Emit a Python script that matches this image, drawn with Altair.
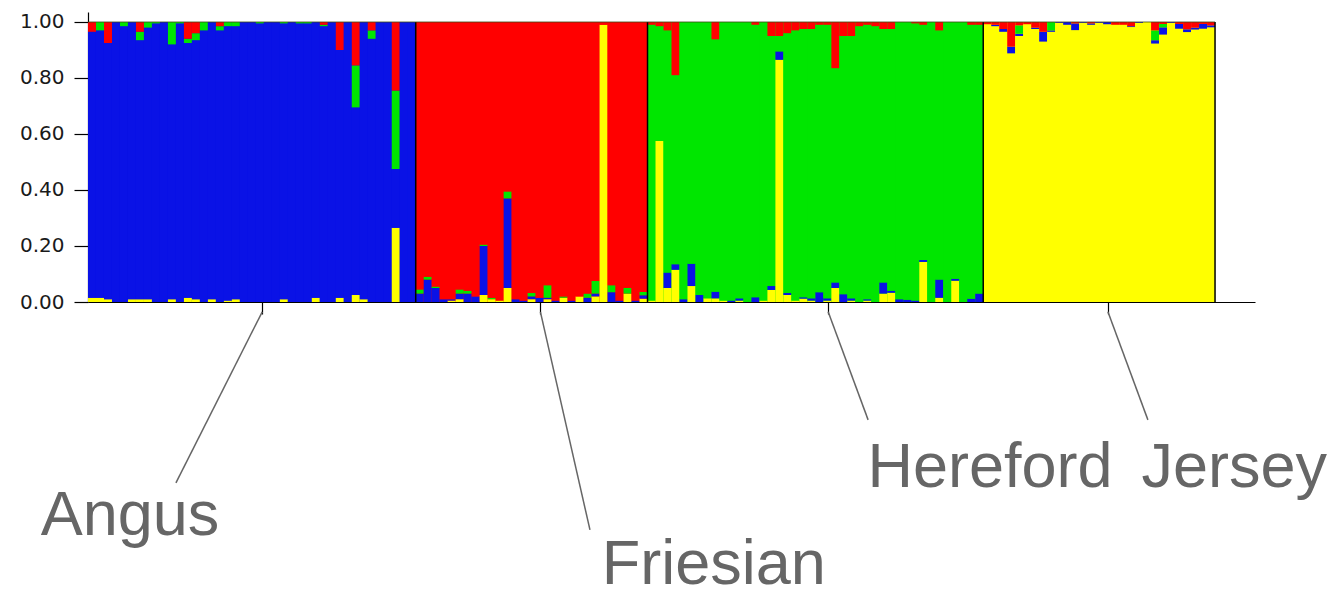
import altair as alt
import pandas as pd

# ---------------- data (admixture proportions) ----------------
groups = ["Angus", "Friesian", "Hereford", "Jersey"]
main_cluster = {"Angus": "blue", "Friesian": "red", "Hereford": "green", "Jersey": "yellow"}

# Angus (main = blue)
angus_red = [0.035, 0, 0.075, 0, 0, 0, 0.035, 0, 0, 0, 0, 0, 0.06, 0.04, 0, 0, 0.015, 0, 0, 0,
             0, 0, 0, 0, 0, 0, 0, 0, 0, 0.01, 0, 0.10, 0, 0.155, 0, 0.03, 0, 0, 0.245, 0, 0]
angus_green = [0, 0.03, 0, 0, 0.015, 0, 0.03, 0.02, 0.005, 0, 0.08, 0.005, 0.015, 0.025, 0.03, 0, 0.015, 0.015, 0.015, 0,
               0, 0.005, 0, 0, 0.005, 0, 0.005, 0.005, 0, 0.005, 0, 0, 0, 0.15, 0, 0.03, 0, 0, 0.28, 0, 0]
angus_yellow = [0.015, 0.015, 0.01, 0, 0, 0.01, 0.01, 0.01, 0, 0, 0.01, 0, 0.015, 0.01, 0, 0.01, 0, 0.005, 0.01, 0,
                0, 0, 0, 0, 0.01, 0, 0, 0, 0.015, 0, 0, 0.015, 0, 0.025, 0.01, 0, 0, 0, 0.265, 0, 0]

# Friesian (main = red)
friesian_green = [0.015, 0.01, 0.005, 0, 0, 0.015, 0.01, 0, 0.005, 0.005, 0, 0.025, 0, 0, 0.012, 0, 0.045, 0, 0.005, 0,
                  0, 0.015, 0.045, 0, 0.025, 0, 0.02, 0, 0.012]
friesian_blue = [0.03, 0.08, 0.05, 0.01, 0.005, 0.02, 0.03, 0.02, 0.175, 0, 0, 0.32, 0.01, 0.005, 0.01, 0.015, 0.005, 0.005, 0, 0.005,
                 0, 0.015, 0.01, 0, 0.035, 0.005, 0, 0.005, 0.012]
friesian_yellow = [0, 0, 0, 0, 0.005, 0.01, 0, 0, 0.025, 0.01, 0.005, 0.05, 0, 0, 0.01, 0, 0.01, 0, 0.015, 0,
                   0.02, 0, 0.02, 0.99, 0, 0, 0.03, 0, 0.012]

# Hereford (main = green)
hereford_red = [0.01, 0.015, 0.03, 0.19, 0, 0, 0, 0, 0.062, 0, 0, 0, 0, 0.01, 0, 0.05, 0.05, 0.04, 0.03, 0.025,
                0.025, 0.01, 0.01, 0.165, 0.05, 0.05, 0.015, 0.01, 0.015, 0.025, 0.025, 0, 0, 0.005, 0.01, 0, 0.03, 0, 0, 0,
                0.01, 0.01]
hereford_blue = [0, 0, 0.055, 0.02, 0.01, 0.08, 0.025, 0, 0.024, 0, 0.005, 0.008, 0, 0.017, 0, 0.014, 0.03, 0.007, 0, 0.005,
                 0.008, 0.035, 0.008, 0.02, 0.028, 0.008, 0, 0.005, 0, 0.04, 0.007, 0.01, 0.008, 0.005, 0.007, 0, 0.065, 0, 0.007, 0,
                 0.012, 0.03]
hereford_yellow = [0.005, 0.575, 0.05, 0.115, 0, 0.057, 0, 0.013, 0.013, 0.005, 0, 0.005, 0, 0, 0.005, 0.043, 0.865, 0.025, 0.005, 0.012,
                   0.005, 0, 0.005, 0.05, 0, 0.005, 0, 0.005, 0, 0.03, 0.033, 0, 0, 0, 0.143, 0, 0.015, 0, 0.076, 0,
                   0, 0]

# Jersey (main = yellow)
jersey_red = [0.008, 0.01, 0.025, 0.088, 0.012, 0.008, 0.02, 0.035, 0, 0, 0, 0.005, 0, 0.005, 0, 0, 0.01, 0.01, 0.015, 0,
              0, 0.03, 0.007, 0, 0.007, 0.026, 0.02, 0.007, 0.012]
jersey_green = [0, 0, 0, 0, 0.03, 0, 0, 0, 0.03, 0, 0, 0, 0, 0, 0, 0, 0, 0, 0, 0,
                0, 0.035, 0.012, 0, 0, 0, 0, 0, 0]
jersey_blue = [0, 0.005, 0.01, 0.024, 0.008, 0, 0.005, 0.035, 0.005, 0.003, 0.01, 0.024, 0.003, 0.005, 0.003, 0.008, 0, 0, 0.003, 0.003,
               0, 0.012, 0.026, 0.003, 0.017, 0.01, 0.007, 0.017, 0.007]

minor = {
    "Angus": {"red": angus_red, "green": angus_green, "yellow": angus_yellow},
    "Friesian": {"green": friesian_green, "blue": friesian_blue, "yellow": friesian_yellow},
    "Hereford": {"red": hereford_red, "blue": hereford_blue, "yellow": hereford_yellow},
    "Jersey": {"red": jersey_red, "green": jersey_green, "blue": jersey_blue},
}

clusters = ["yellow", "blue", "green", "red"]          # stacking order, bottom to top
cluster_colors = ["#ffff00", "#0a12e6", "#00e600", "#ff0000"]

y_ticks = [0, 0.2, 0.4, 0.6, 0.8, 1.0]

# annotation anchors (in individual-index units) and label placement
tick_pos = [21.8, 56.6, 92.6, 127.6]
label_line_end_x = [11.0, 62.8, 97.6, 132.6]
label_line_end_y = [-0.646, -0.814, -0.421, -0.421]
label_x = [5.25, 78.3, 112.85, 143.4]
label_y = [-0.832, -1.008, -0.661, -0.661]

# ---------------- build tables ----------------
rows = []
group_rows = []
idx = 0
boundaries = []
for g in groups:
    comp = minor[g]
    n = len(next(iter(comp.values())))
    group_rows.append({"x": idx, "x2": idx + n, "y": 0, "y2": 1, "cluster": main_cluster[g]})
    for i in range(n):
        vals = {c: comp[c][i] if c in comp else None for c in clusters}
        others = sum(v for v in vals.values() if v is not None)
        vals[main_cluster[g]] = max(0.0, 1.0 - others)
        y0 = 0.0
        for c in clusters:
            v = vals[c]
            if v > 0:
                rows.append({"x": idx, "x2": idx + 1, "y": y0, "y2": y0 + v, "cluster": c, "group": g})
            y0 += v
        idx += 1
    boundaries.append(idx)
n_total = idx
bars_df = pd.DataFrame(rows)
groups_df = pd.DataFrame(group_rows)

sep_df = pd.DataFrame({"x": boundaries, "y": [0] * len(boundaries), "y2": [1] * len(boundaries)})
top_df = pd.DataFrame({"x": [0], "x2": [n_total], "y": [1]})
lines_df = pd.DataFrame({"x": tick_pos, "x2": label_line_end_x,
                         "y": [-0.035] * 4, "y2": label_line_end_y})
text_df = pd.DataFrame({"x": label_x, "y": label_y, "label": groups})

X_DOMAIN = [0, 146]
Y_DOMAIN = [0, 1.0357]
xs = alt.Scale(domain=X_DOMAIN, nice=False, zero=False)
ys = alt.Scale(domain=Y_DOMAIN, nice=False, zero=False)

x_axis = alt.Axis(values=tick_pos, labels=False, grid=False, title="",
                  domainColor="black", tickColor="black", tickSize=12, domainWidth=1.2, tickWidth=1.2)
y_axis = alt.Axis(values=y_ticks, format=".2f", grid=False, title="",
                  domainColor="black", tickColor="black", tickSize=14, domainWidth=1.2, tickWidth=1.2,
                  labelFont="DejaVu Sans", labelFontSize=20, labelColor="#1a1a1a", labelPadding=10)


def X(field):
    return alt.X(field, scale=xs, axis=x_axis)


def Y(field):
    return alt.Y(field, scale=ys, axis=y_axis)


color_scale = alt.Scale(domain=clusters, range=cluster_colors)

backgrounds = alt.Chart(groups_df).mark_rect().encode(
    x=X("x:Q"), x2="x2:Q", y=Y("y:Q"), y2="y2:Q",
    color=alt.Color("cluster:N", scale=color_scale, legend=None),
)

bars = alt.Chart(bars_df).mark_rect().encode(
    x=X("x:Q"), x2="x2:Q", y=Y("y:Q"), y2="y2:Q",
    color=alt.Color("cluster:N", scale=color_scale, legend=None),
)

seps = alt.Chart(sep_df).mark_rule(color="black", strokeWidth=1.5).encode(
    x=X("x:Q"), y=Y("y:Q"), y2="y2:Q",
)

top_line = alt.Chart(top_df).mark_rule(color="#3d4a10", strokeWidth=1.2, opacity=0.8).encode(
    x=X("x:Q"), x2="x2:Q", y=Y("y:Q"),
)

label_lines = alt.Chart(lines_df).mark_rule(color="#666666", strokeWidth=1.5).encode(
    x=X("x:Q"), x2="x2:Q", y=Y("y:Q"), y2="y2:Q",
)

labels = alt.Chart(text_df).mark_text(
    font="Liberation Sans", fontSize=63, color="#666666", align="center", baseline="alphabetic"
).encode(
    x=X("x:Q"), y=Y("y:Q"), text="label:N",
)

chart = alt.layer(backgrounds, bars, seps, top_line, label_lines, labels).properties(
    width=1167, height=290,
    autosize=alt.AutoSizeParams(type="none"),
    padding={"left": 80, "top": 4, "right": 75, "bottom": 297},
).configure_view(stroke=None)

chart.save("out.html", embed_options={"renderer": "svg", "actions": False})
